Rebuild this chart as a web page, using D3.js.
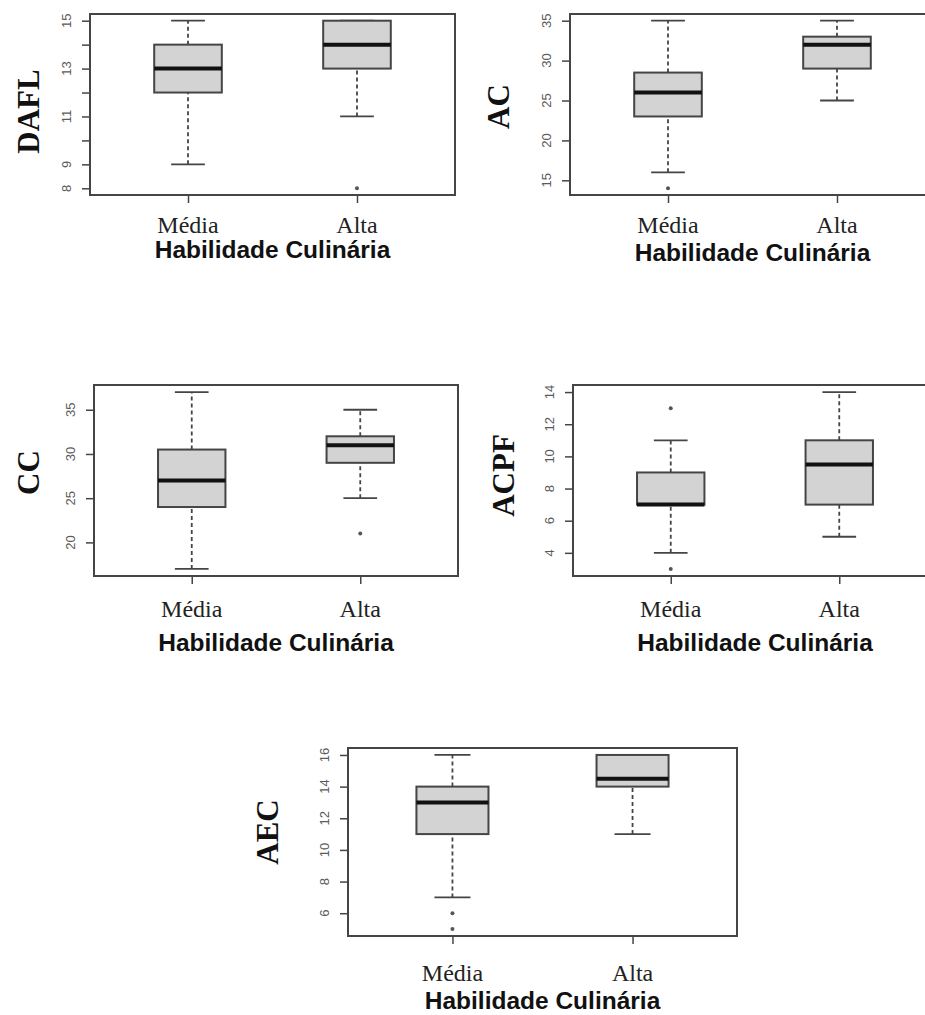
<!DOCTYPE html>
<html>
<head>
<meta charset="utf-8">
<script src="https://cdn.jsdelivr.net/npm/d3@7"></script>
<style>
  body { margin: 0; background: #fff; }
  svg { display: block; }
</style>
</head>
<body>
<svg id="chart" width="925" height="1015"></svg>
<script>
// categories shared by every panel
const categories = ["Média", "Alta"];

// box stats per group: [lower whisker, Q1, median, Q3, upper whisker]
const daflStats = [[9, 12, 13, 14, 15], [11, 13, 14, 15, 15]];
const daflOutliers = [[], [8]];
const daflTicks = [8, 9, 10, 11, 12, 13, 14, 15];
const daflTickLabels = [8, 9, 11, 13, 15];

const acStats = [[16, 23, 26, 28.5, 35], [25, 29, 32, 33, 35]];
const acOutliers = [[14], []];
const acTicks = [15, 20, 25, 30, 35];

const ccStats = [[17, 24, 27, 30.5, 37], [25, 29, 31, 32, 35]];
const ccOutliers = [[], [21]];
const ccTicks = [20, 25, 30, 35];

const acpfStats = [[4, 7, 7, 9, 11], [5, 7, 9.5, 11, 14]];
const acpfOutliers = [[13, 3], []];
const acpfTicks = [4, 6, 8, 10, 12, 14];

const aecStats = [[7, 11, 13, 14, 16], [11, 14, 14.5, 16, 16]];
const aecOutliers = [[6, 5], []];
const aecTicks = [6, 8, 10, 12, 14, 16];

const xTitle = "Habilidade Culinária";

// layout of each panel (position of the plot frame and label offsets)
const panels = [
    { name: "DAFL", stats: daflStats, outliers: daflOutliers, ticks: daflTicks, labels: daflTickLabels,
      left: 90, top: 14, width: 365, height: 181, titleX: -62, titleDy: 7, catDy: 38, xTitleDy: 63 },
    { name: "AC", stats: acStats, outliers: acOutliers, ticks: acTicks, labels: acTicks,
      left: 570, top: 14, width: 365, height: 181, titleX: -72, titleDy: 2, catDy: 38, xTitleDy: 66 },
    { name: "CC", stats: ccStats, outliers: ccOutliers, ticks: ccTicks, labels: ccTicks,
      left: 94, top: 385, width: 364, height: 191, titleX: -66, titleDy: -8, catDy: 41, xTitleDy: 75 },
    { name: "ACPF", stats: acpfStats, outliers: acpfOutliers, ticks: acpfTicks, labels: acpfTicks,
      left: 573, top: 385, width: 364, height: 191, titleX: -70, titleDy: -5, catDy: 41, xTitleDy: 75 },
    { name: "AEC", stats: aecStats, outliers: aecOutliers, ticks: aecTicks, labels: aecTicks,
      left: 348, top: 748, width: 389, height: 188, titleX: -81, titleDy: -10, catDy: 45, xTitleDy: 73 }
];

const lineColor = "#454545";
const svg = d3.select("#chart");

panels.forEach(p => {
    const g = svg.append("g").attr("transform", `translate(${p.left},${p.top})`);

    // R style range: data extent padded by 4%
    const allValues = p.stats.flat().concat(p.outliers.flat());
    const lo = d3.min(allValues), hi = d3.max(allValues);
    const pad = (hi - lo) * 0.04;

    const x = d3.scaleLinear().domain([0.42, 2.58]).range([0, p.width]);
    const y = d3.scaleLinear().domain([lo - pad, hi + pad]).range([p.height, 0]);
    const boxW = x(1.4) - x(1);
    const capW = boxW / 2;

    // y axis ticks
    const yAxis = g.append("g").call(d3.axisLeft(y).tickValues(p.ticks).tickSize(8).tickFormat(""));
    yAxis.select(".domain").remove();
    yAxis.selectAll("line").attr("stroke", lineColor).attr("stroke-width", 1.5);

    g.selectAll(".ylab")
        .data(p.labels)
        .enter()
        .append("text")
        .attr("class", "ylab")
        .attr("transform", d => `translate(-24,${y(d)}) rotate(-90)`)
        .attr("text-anchor", "middle")
        .attr("dominant-baseline", "central")
        .style("font-family", "'Liberation Sans', Arial, sans-serif")
        .style("font-size", "13px")
        .style("fill", "#5a5a5a")
        .text(d => d);

    // x axis ticks
    const xAxis = g.append("g")
        .attr("transform", `translate(0,${p.height})`)
        .call(d3.axisBottom(x).tickValues([1, 2]).tickSize(8).tickFormat(""));
    xAxis.select(".domain").remove();
    xAxis.selectAll("line").attr("stroke", lineColor).attr("stroke-width", 1.5);

    g.selectAll(".xlab")
        .data(categories)
        .enter()
        .append("text")
        .attr("x", (d, i) => x(i + 1))
        .attr("y", p.height + p.catDy)
        .attr("text-anchor", "middle")
        .style("font-family", "'Liberation Serif', 'Times New Roman', serif")
        .style("font-size", "24px")
        .style("fill", "#222")
        .text(d => d);

    // whiskers (dashed) and caps
    p.stats.forEach((s, i) => {
        const cx = x(i + 1);
        g.append("line")
            .attr("x1", cx).attr("x2", cx)
            .attr("y1", y(s[0])).attr("y2", y(s[1]))
            .attr("stroke", lineColor).attr("stroke-width", 1.8)
            .attr("stroke-dasharray", "4,3");
        g.append("line")
            .attr("x1", cx).attr("x2", cx)
            .attr("y1", y(s[3])).attr("y2", y(s[4]))
            .attr("stroke", lineColor).attr("stroke-width", 1.8)
            .attr("stroke-dasharray", "4,3");
        [s[0], s[4]].forEach(v => {
            g.append("line")
                .attr("x1", cx - capW / 2).attr("x2", cx + capW / 2)
                .attr("y1", y(v)).attr("y2", y(v))
                .attr("stroke", lineColor).attr("stroke-width", 1.8);
        });

        // box
        g.append("rect")
            .attr("x", cx - boxW / 2)
            .attr("y", y(s[3]))
            .attr("width", boxW)
            .attr("height", y(s[1]) - y(s[3]))
            .attr("fill", "#d3d3d3")
            .attr("stroke", lineColor)
            .attr("stroke-width", 2);

        // median
        g.append("line")
            .attr("x1", cx - boxW / 2).attr("x2", cx + boxW / 2)
            .attr("y1", y(s[2])).attr("y2", y(s[2]))
            .attr("stroke", "#111").attr("stroke-width", 4);

        // outliers
        p.outliers[i].forEach(v => {
            g.append("circle")
                .attr("cx", cx).attr("cy", y(v))
                .attr("r", 2)
                .attr("fill", "#555");
        });
    });

    // plot frame
    g.append("rect")
        .attr("width", p.width)
        .attr("height", p.height)
        .attr("fill", "none")
        .attr("stroke", lineColor)
        .attr("stroke-width", 2);

    // titles
    g.append("text")
        .attr("transform", `translate(${p.titleX},${p.height / 2 + p.titleDy}) rotate(-90)`)
        .attr("text-anchor", "middle")
        .attr("dominant-baseline", "central")
        .style("font-family", "'Liberation Serif', 'Times New Roman', serif")
        .style("font-weight", "bold")
        .style("font-size", "31px")
        .style("fill", "#111")
        .text(p.name);

    g.append("text")
        .attr("x", p.width / 2)
        .attr("y", p.height + p.xTitleDy)
        .attr("text-anchor", "middle")
        .style("font-family", "'Liberation Sans', Arial, sans-serif")
        .style("font-weight", "bold")
        .style("font-size", "24.5px")
        .style("fill", "#111")
        .text(xTitle);
});
</script>
</body>
</html>
